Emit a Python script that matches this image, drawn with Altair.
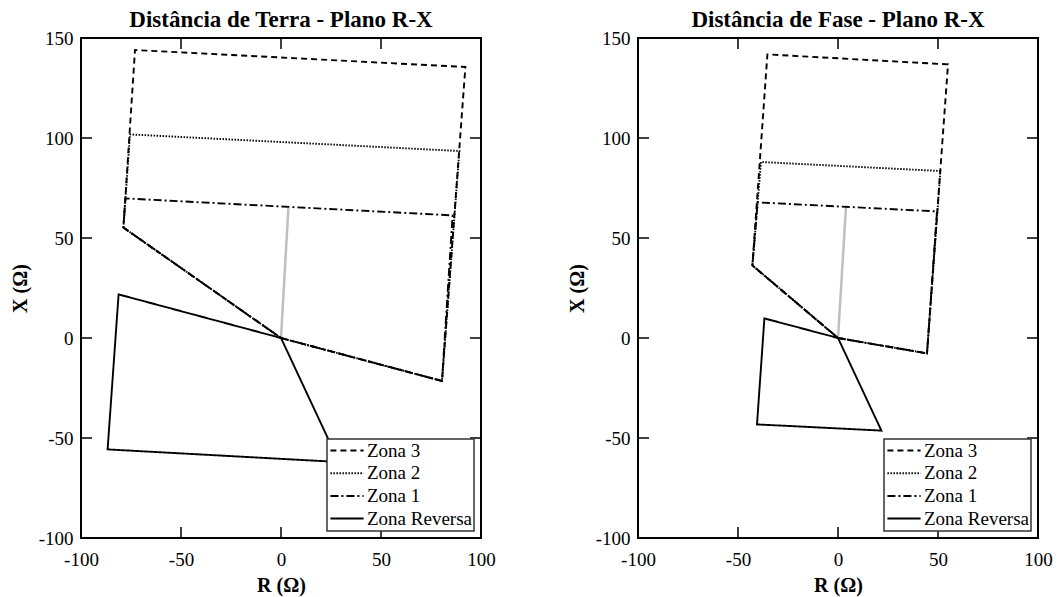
import altair as alt
import pandas as pd

FONT = "Liberation Serif"

ZONAS = ["Zona 3", "Zona 2", "Zona 1", "Zona Reversa"]
TRACOS = [[6, 4], [1.5, 1.5], [8, 3, 2, 3], [1, 0]]

TICKS_R = [-50, 0, 50]
TICKS_X = [-50, 0, 50, 100]
VALORES_R = [-100, -50, 0, 50, 100]
VALORES_X = [-100, -50, 0, 50, 100, 150]

# Distância de Terra: polygon vertices (R, X) in ohms
TERRA_ZONA3 = [(0, 0), (80.5, -21.5), (92.2, 135.5), (-73.0, 144.0), (-78.8, 55.2), (0, 0)]
TERRA_ZONA2 = [(0, 0), (80.5, -21.5), (89.2, 93.5), (-75.5, 101.8), (-78.8, 55.2), (0, 0)]
TERRA_ZONA1 = [(0, 0), (80.5, -21.5), (85.8, 61.3), (-77.8, 69.8), (-78.8, 55.2), (0, 0)]
TERRA_REVERSA = [(0, 0), (-81.2, 21.8), (-86.7, -55.7), (29.0, -62.0), (0, 0)]
TERRA_LINHA = [(0, 0), (3.7, 65.2)]

# Distância de Fase: polygon vertices (R, X) in ohms
FASE_ZONA3 = [(0, 0), (44.5, -7.7), (55.0, 136.8), (-35.3, 141.8), (-42.8, 36.3), (0, 0)]
FASE_ZONA2 = [(0, 0), (44.5, -7.7), (51.2, 83.5), (-38.5, 88.0), (-42.8, 36.3), (0, 0)]
FASE_ZONA1 = [(0, 0), (44.5, -7.7), (49.5, 63.3), (-40.2, 67.8), (-42.8, 36.3), (0, 0)]
FASE_REVERSA = [(0, 0), (-36.8, 9.8), (-40.5, -43.2), (21.7, -46.3), (0, 0)]
FASE_LINHA = [(0, 0), (4.0, 65.5)]

W, H = 400, 500
TICK = 11


def zonas_df(z3, z2, z1, zr):
    rows = []
    for nome, pts in zip(ZONAS, [z3, z2, z1, zr]):
        for i, (r, x) in enumerate(pts):
            rows.append({"zona": nome, "ordem": i, "R": r, "X": x})
    return pd.DataFrame(rows)


def linha_df(pts):
    return pd.DataFrame([{"ordem": i, "R": r, "X": x} for i, (r, x) in enumerate(pts)])


eixo_r = alt.Axis(
    values=VALORES_R, ticks=False, domain=False, grid=False,
    labelExpr="'' + datum.value", labelFlush=False, labelOverlap=False,
    labelPadding=12, titlePadding=6,
)
eixo_x = alt.Axis(
    values=VALORES_X, ticks=False, domain=False, grid=False,
    labelExpr="'' + datum.value", labelFlush=False, labelOverlap=False,
    labelPadding=8, titlePadding=8,
)


def enc_r():
    return alt.X("R:Q", title="R (Ω)", axis=eixo_r,
                 scale=alt.Scale(domain=[-100, 100], nice=False, zero=False))


def enc_x():
    return alt.Y("X:Q", title="X (Ω)", axis=eixo_x,
                 scale=alt.Scale(domain=[-100, 150], nice=False, zero=False))


def painel(titulo, zonas, linha):
    base_linha = alt.Chart(linha_df(linha)).mark_line(
        color="#bfbfbf", strokeWidth=2.5
    ).encode(x=enc_r(), y=enc_x(), order="ordem:Q")

    poligonos = alt.Chart(zonas).mark_line(
        color="black", strokeWidth=1.9
    ).encode(
        x=enc_r(),
        y=enc_x(),
        detail="zona:N",
        order="ordem:Q",
        strokeDash=alt.StrokeDash(
            "zona:N",
            title=None,
            scale=alt.Scale(domain=ZONAS, range=TRACOS),
            legend=alt.Legend(
                orient="bottom-right", offset=7, padding=2,
                fillColor="white", strokeColor="#333333",
                symbolType="stroke", symbolSize=1100, symbolStrokeWidth=2,
                symbolStrokeColor="black", clipHeight=19, rowPadding=2.7,
                labelFont=FONT, labelFontSize=19, labelColor="black",
                labelOffset=2,
            ),
        ),
    )

    tr = pd.DataFrame({"R": TICKS_R})
    tx = pd.DataFrame({"X": TICKS_X})
    ticks_base = alt.Chart(tr).mark_rule(color="black", strokeWidth=1.5)
    ticks_inf = ticks_base.encode(x=enc_r(), y=alt.value(H), y2=alt.value(H - TICK))
    ticks_sup = ticks_base.encode(x=enc_r(), y=alt.value(0), y2=alt.value(TICK))
    ticks_y = alt.Chart(tx).mark_rule(color="black", strokeWidth=1.5)
    ticks_esq = ticks_y.encode(y=enc_x(), x=alt.value(0), x2=alt.value(TICK))
    ticks_dir = ticks_y.encode(y=enc_x(), x=alt.value(W), x2=alt.value(W - TICK))

    return alt.layer(
        base_linha, poligonos, ticks_inf, ticks_sup, ticks_esq, ticks_dir
    ).properties(
        width=W, height=H,
        title=alt.TitleParams(titulo, font=FONT, fontSize=23, fontWeight="bold",
                              color="black", offset=-3, anchor="middle"),
    )


terra = painel("Distância de Terra - Plano R-X",
               zonas_df(TERRA_ZONA3, TERRA_ZONA2, TERRA_ZONA1, TERRA_REVERSA),
               TERRA_LINHA)
fase = painel("Distância de Fase - Plano R-X",
              zonas_df(FASE_ZONA3, FASE_ZONA2, FASE_ZONA1, FASE_REVERSA),
              FASE_LINHA)

chart = alt.hconcat(terra, fase, spacing=69).resolve_scale(
    strokeDash="independent"
).resolve_legend(
    strokeDash="independent"
).properties(
    padding={"left": 9, "top": 8, "right": 5, "bottom": 5},
    background="white",
).configure_view(
    stroke="black", strokeWidth=2
).configure_axis(
    labelFont=FONT, labelFontSize=19, labelColor="black",
    titleFont=FONT, titleFontSize=20, titleFontWeight="bold", titleColor="black",
).configure_legend(
    strokeWidth=1.5, cornerRadius=0
)

chart.save("out.html", embed_options={"renderer": "svg", "actions": False})
